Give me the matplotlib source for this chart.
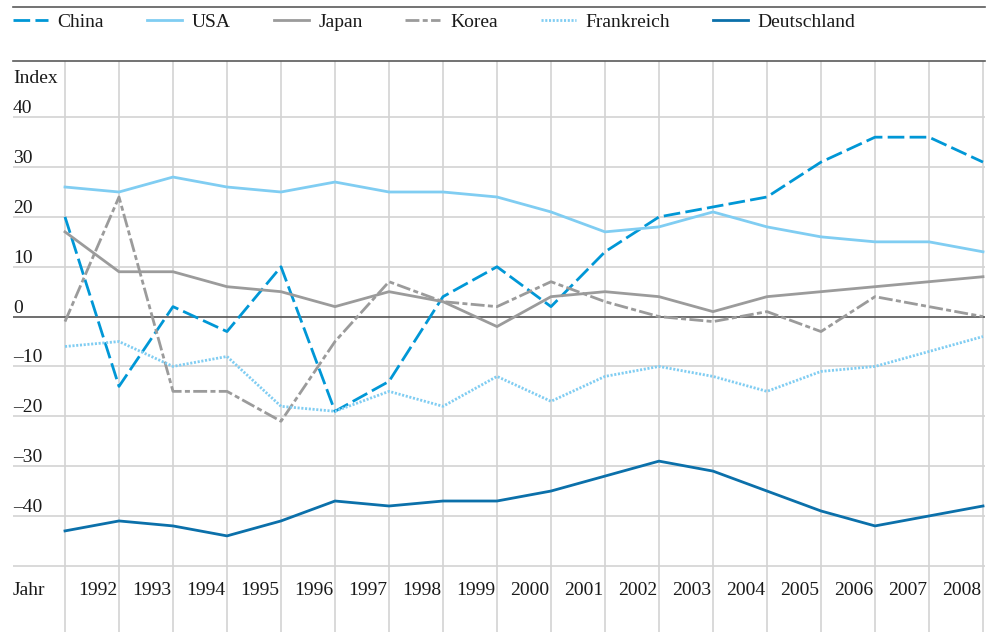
import matplotlib
matplotlib.use("Agg")
import matplotlib.pyplot as plt
from matplotlib.lines import Line2D

# Index values per country, 1991-2008
years = list(range(1991, 2009))
china = [20, -14, 2, -3, 10, -19, -13, 4, 10, 2, 13, 20, 22, 24, 31, 36, 36, 31]
usa = [26, 25, 28, 26, 25, 27, 25, 25, 24, 21, 17, 18, 21, 18, 16, 15, 15, 13]
japan = [17, 9, 9, 6, 5, 2, 5, 3, -2, 4, 5, 4, 1, 4, 5, 6, 7, 8]
korea = [-1, 24, -15, -15, -21, -5, 7, 3, 2, 7, 3, 0, -1, 1, -3, 4, 2, 0]
frankreich = [-6, -5, -10, -8, -18, -19, -15, -18, -12, -17, -12, -10, -12, -15, -11, -10, -7, -4]
deutschland = [-43, -41, -42, -44, -41, -37, -38, -37, -37, -35, -32, -29, -31, -35, -39, -42, -40, -38]

y_ticks = [40, 30, 20, 10, 0, -10, -20, -30, -40]
grid_levels = [40, 30, 20, 10, 0, -10, -20, -30, -40, -50]
y_tick_labels = ["40", "30", "20", "10", "0", "\u201310", "\u201320", "\u201330", "\u201340"]
year_labels = [str(y) for y in years[1:]]

plt.rcParams["font.family"] = ["Liberation Serif", "DejaVu Serif"]
plt.rcParams["font.size"] = 14
plt.rcParams["lines.scale_dashes"] = False

W, H = 991, 632
fig = plt.figure(figsize=(W / 100, H / 100), dpi=100)
fig.patch.set_facecolor("white")

ax = fig.add_axes([13 / W, 0, (985 - 13) / W, (632 - 61) / H])
px_per_year = 54.0
px_per_unit = 4.984
zero_px = 316.6
ax.set_xlim(1991 - 52 / px_per_year, 1991 + (985 - 65) / px_per_year)
ax.set_ylim((zero_px - 632) / px_per_unit, (zero_px - 61) / px_per_unit)

for side in ["left", "right", "bottom"]:
    ax.spines[side].set_visible(False)
ax.spines["top"].set_color("#5a5a5a")
ax.spines["top"].set_linewidth(1.2)
ax.set_xticks([])
ax.set_yticks([])

grid_color = "#d3d3d3"
for v in grid_levels:
    if v == 0:
        ax.axhline(v, color="#555555", lw=1.2, zorder=2)
    else:
        ax.axhline(v, color=grid_color, lw=1.2, zorder=1)
for yr in years:
    ax.axvline(yr, color=grid_color, lw=1.2, zorder=1)

col_china = "#0097d6"
col_light = "#80cdf2"
col_gray = "#9b9b9b"
col_de = "#0b70aa"
lw = 2.0

series = [
    ("China", china, dict(color=col_china, linestyle=(0, (12.0, 3.8)))),
    ("USA", usa, dict(color=col_light, linestyle="-")),
    ("Japan", japan, dict(color=col_gray, linestyle="-")),
    ("Korea", korea, dict(color=col_gray, linestyle=(0, (10.0, 2.4, 3.6, 2.4)))),
    ("Frankreich", frankreich, dict(color=col_light, linestyle=(0, (1.5, 1.2)))),
    ("Deutschland", deutschland, dict(color=col_de, linestyle="-")),
]

handles = []
for name, vals, style in series:
    (ln,) = ax.plot(years, vals, lw=lw, zorder=3, label=name,
                    dash_capstyle="butt", solid_joinstyle="miter", **style)
    handles.append(ln)

text_color = "#1a1a1a"
for v, lab in zip(y_ticks, y_tick_labels):
    ax.annotate(lab, xy=(0, v), xycoords=ax.get_yaxis_transform(),
                xytext=(0, 4), textcoords="offset pixels",
                ha="left", va="baseline", color=text_color)

ax.annotate("Index", xy=(0, 1), xycoords="axes fraction",
            xytext=(0, -22), textcoords="offset pixels",
            ha="left", va="baseline", color=text_color)

for yr, lab in zip(years[1:], year_labels):
    ax.annotate(lab, xy=(yr, -50), xycoords="data",
                xytext=(-2, -29), textcoords="offset pixels",
                ha="right", va="baseline", color=text_color)
ax.annotate("Jahr", xy=(0, -50), xycoords=ax.get_yaxis_transform(),
            xytext=(0, -29), textcoords="offset pixels",
            ha="left", va="baseline", color=text_color)

# rule above the legend
fig.add_artist(Line2D([13 / W, 985 / W], [1 - 7 / H, 1 - 7 / H],
                      transform=fig.transFigure, color="#5a5a5a", lw=1.2))

leg = fig.legend(handles=handles, labels=[s[0] for s in series],
                 loc="center left", bbox_to_anchor=(13 / W, 1 - 22 / H),
                 ncol=6, frameon=False, handlelength=1.8, handletextpad=0.5,
                 columnspacing=2.2, borderpad=0, borderaxespad=0, fontsize=14)
for t in leg.get_texts():
    t.set_color(text_color)

fig.savefig("out.png", dpi=100, facecolor="white")
